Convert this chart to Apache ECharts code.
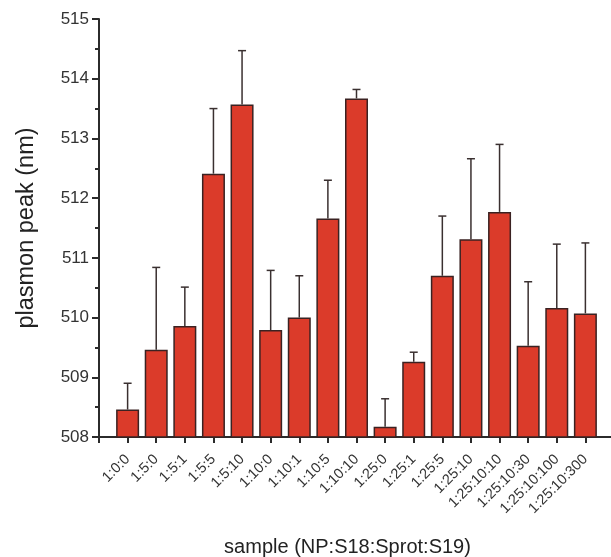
<!DOCTYPE html>
<html><head><meta charset="utf-8">
<script src="https://cdn.jsdelivr.net/npm/echarts@6/dist/echarts.min.js"></script>
<style>html,body{margin:0;padding:0;background:#fff}#c{width:611px;height:557px}</style>
</head><body><div id="c"></div>
<script>
const categories = ['1:0:0','1:5:0','1:5:1','1:5:5','1:5:10','1:10:0','1:10:1','1:10:5','1:10:10','1:25:0','1:25:1','1:25:5','1:25:10','1:25:10:10','1:25:10:30','1:25:10:100','1:25:10:300'];
const peakValues = [508.46, 509.46, 509.86, 512.41, 513.57, 509.79, 510.00, 511.66, 513.67, 508.17, 509.26, 510.70, 511.31, 511.77, 509.53, 510.16, 510.07];
const errorTops  = [508.90, 510.84, 510.51, 513.50, 514.47, 510.79, 510.70, 512.30, 513.82, 508.64, 509.42, 511.70, 512.66, 512.90, 510.60, 511.23, 511.25];
const yTicks = [508, 509, 510, 511, 512, 513, 514, 515];

const chart = echarts.init(document.getElementById('c'));
const barData = peakValues.map((v, i) => [i, v]);
const errData = peakValues.map((v, i) => [i, v, errorTops[i]]);
const axisColor = '#2b2b2b';
chart.setOption({
  animation: false,
  grid: { left: 99, top: 19, width: 515, bottom: 120, containLabel: false, outerBoundsMode: 'none' },
  xAxis: {
    type: 'value', min: -1, max: 17, interval: 1,
    name: 'sample (NP:S18:Sprot:S19)', nameLocation: 'middle', nameGap: 100,
    nameTextStyle: { fontFamily: 'Liberation Sans, Arial', fontSize: 20, color: '#222', padding: [0, 18, 0, 0] },
    axisLine: { show: true, onZero: false, lineStyle: { color: axisColor, width: 2 } },
    axisTick: { show: true, inside: false, length: 6, lineStyle: { color: axisColor, width: 2 } },
    axisLabel: {
      rotate: 45, margin: 20, fontFamily: 'Liberation Sans, Arial', fontSize: 14.5, color: '#333',
      formatter: v => (v >= 0 && v < categories.length) ? categories[v] : ''
    },
    splitLine: { show: false }
  },
  yAxis: {
    type: 'value', min: yTicks[0], max: yTicks[yTicks.length - 1], interval: 1,
    name: 'plasmon peak (nm)', nameLocation: 'middle', nameGap: 60,
    nameTextStyle: { fontFamily: 'Liberation Sans, Arial', fontSize: 23.5, color: '#222' },
    axisLine: { show: true, onZero: false, lineStyle: { color: axisColor, width: 2 } },
    axisTick: { show: true, inside: false, length: 7, lineStyle: { color: axisColor, width: 2 } },
    minorTick: { show: true, splitNumber: 2, length: 4, lineStyle: { color: axisColor, width: 2 } },
    axisLabel: { margin: 10, fontFamily: 'Liberation Sans, Arial', fontSize: 17, color: '#333' },
    splitLine: { show: false }
  },
  series: [
    {
      type: 'bar', data: barData, barWidth: 23,
      itemStyle: { color: '#db3b2a', borderColor: '#3a2222', borderWidth: 1.5 },
      z: 2
    },
    {
      type: 'custom', data: errData, z: 3,
      renderItem: (params, api) => {
        const x = api.value(0);
        const base = api.coord([x, api.value(1)]);
        const top = api.coord([x, api.value(2)]);
        const cw = 4;
        const st = { stroke: '#3a3030', lineWidth: 1.5 };
        return { type: 'group', children: [
          { type: 'line', shape: { x1: base[0], y1: base[1], x2: top[0], y2: top[1] }, style: st },
          { type: 'line', shape: { x1: top[0] - cw, y1: top[1], x2: top[0] + cw, y2: top[1] }, style: st }
        ]};
      }
    }
  ]
});
</script></body></html>
